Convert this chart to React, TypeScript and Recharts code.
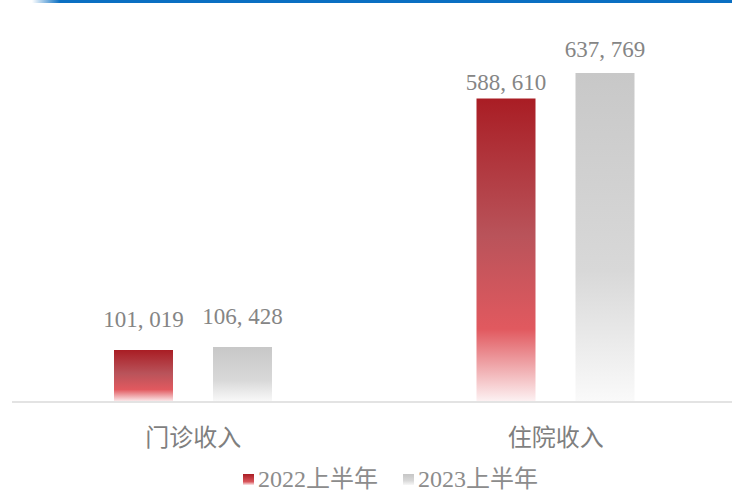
import { BarChart, Bar, XAxis, YAxis, Legend, LabelList } from "recharts";

const categories = ["门诊收入", "住院收入"];
const h1Of2022 = [101019, 588610];
const h1Of2023 = [106428, 637769];
const seriesNames = ["2022上半年", "2023上半年"];

const data = categories.map((name, i) => ({ name, y2022: h1Of2022[i], y2023: h1Of2023[i] }));

// how far each value label sits above its bar (the source places them by hand)
const lift2022 = [23, 8];
const lift2023 = [23, 16];

const fmt = (v: number) => v.toLocaleString("en-US").replace(",", ", ");

const makeLabel = (lifts: number[]) => (props: any) => {
    const { x, y, width, value, index } = props;
    return (
        <text
            x={Number(x) + Number(width) / 2}
            y={Number(y) - lifts[index]}
            textAnchor="middle"
            fill="#858585"
            fontSize={23}
            fontFamily="'Liberation Serif', 'Noto Sans CJK SC', serif"
        >
            {fmt(Number(value))}
        </text>
    );
};

const legendIcons = [
    "linear-gradient(#A91D24, #D9555B 70%, #FBE9EA)",
    "linear-gradient(#C6C6C6, #D8D8D8 60%, #F7F7F7)",
];

function LegendContent() {
    return (
        <div
            style={{
                display: "flex",
                justifyContent: "center",
                alignItems: "center",
                height: 40,
                paddingTop: 12,
                paddingLeft: 32,
                boxSizing: "border-box",
                fontSize: 24,
                lineHeight: "28px",
                color: "#8c8c8c",
                fontFamily: "'Liberation Serif', 'Noto Sans CJK SC', serif",
            }}
        >
            {seriesNames.map((n, i) => (
                <div key={n} style={{ display: "flex", alignItems: "center", marginRight: i === 0 ? 25 : 0 }}>
                    <span style={{ width: 11, height: 11, background: legendIcons[i], marginRight: 4, display: "inline-block" }} />
                    <span>{n}</span>
                </div>
            ))}
        </div>
    );
}

export default function App() {
    return (
        <div style={{ position: "absolute", left: 0, top: 0, width: 732, height: 493, background: "#fff", overflow: "hidden" }}>
            <div
                style={{
                    position: "absolute",
                    left: 32,
                    top: 0,
                    width: 700,
                    height: 3,
                    background: "linear-gradient(to right, rgba(10,111,194,0), #0A6FC2 28px)",
                }}
            />
            <BarChart
                width={732}
                height={493}
                data={data}
                margin={{ top: 41, right: -5, left: 12, bottom: 0 }}
                barSize={59}
                barGap={40}
            >
                <defs>
                    <linearGradient id="red" x1="0" y1="0" x2="0" y2="1">
                        <stop offset="0%" stopColor="#A91D24" />
                        <stop offset="45%" stopColor="#B9535A" />
                        <stop offset="76%" stopColor="#E1595F" />
                        <stop offset="100%" stopColor="#FDF3F4" />
                    </linearGradient>
                    <linearGradient id="gray" x1="0" y1="0" x2="0" y2="1">
                        <stop offset="0%" stopColor="#C8C8C8" />
                        <stop offset="60%" stopColor="#D8D8D8" />
                        <stop offset="100%" stopColor="#FAFAFA" />
                    </linearGradient>
                </defs>
                <XAxis
                    dataKey="name"
                    height={51}
                    axisLine={{ stroke: "#E3E3E3", strokeWidth: 2 }}
                    tickLine={false}
                    tickMargin={21}
                    tick={{ fill: "#7f7f7f", fontSize: 24, fontFamily: "'Noto Sans CJK SC', sans-serif" }}
                />
                <YAxis hide domain={[0, 700000]} />
                <Legend verticalAlign="bottom" wrapperStyle={{ height: 40 }} content={<LegendContent />} />
                <Bar dataKey="y2022" name={seriesNames[0]} fill="url(#red)" isAnimationActive={false}>
                    <LabelList dataKey="y2022" content={makeLabel(lift2022)} />
                </Bar>
                <Bar dataKey="y2023" name={seriesNames[1]} fill="url(#gray)" isAnimationActive={false}>
                    <LabelList dataKey="y2023" content={makeLabel(lift2023)} />
                </Bar>
            </BarChart>
        </div>
    );
}
